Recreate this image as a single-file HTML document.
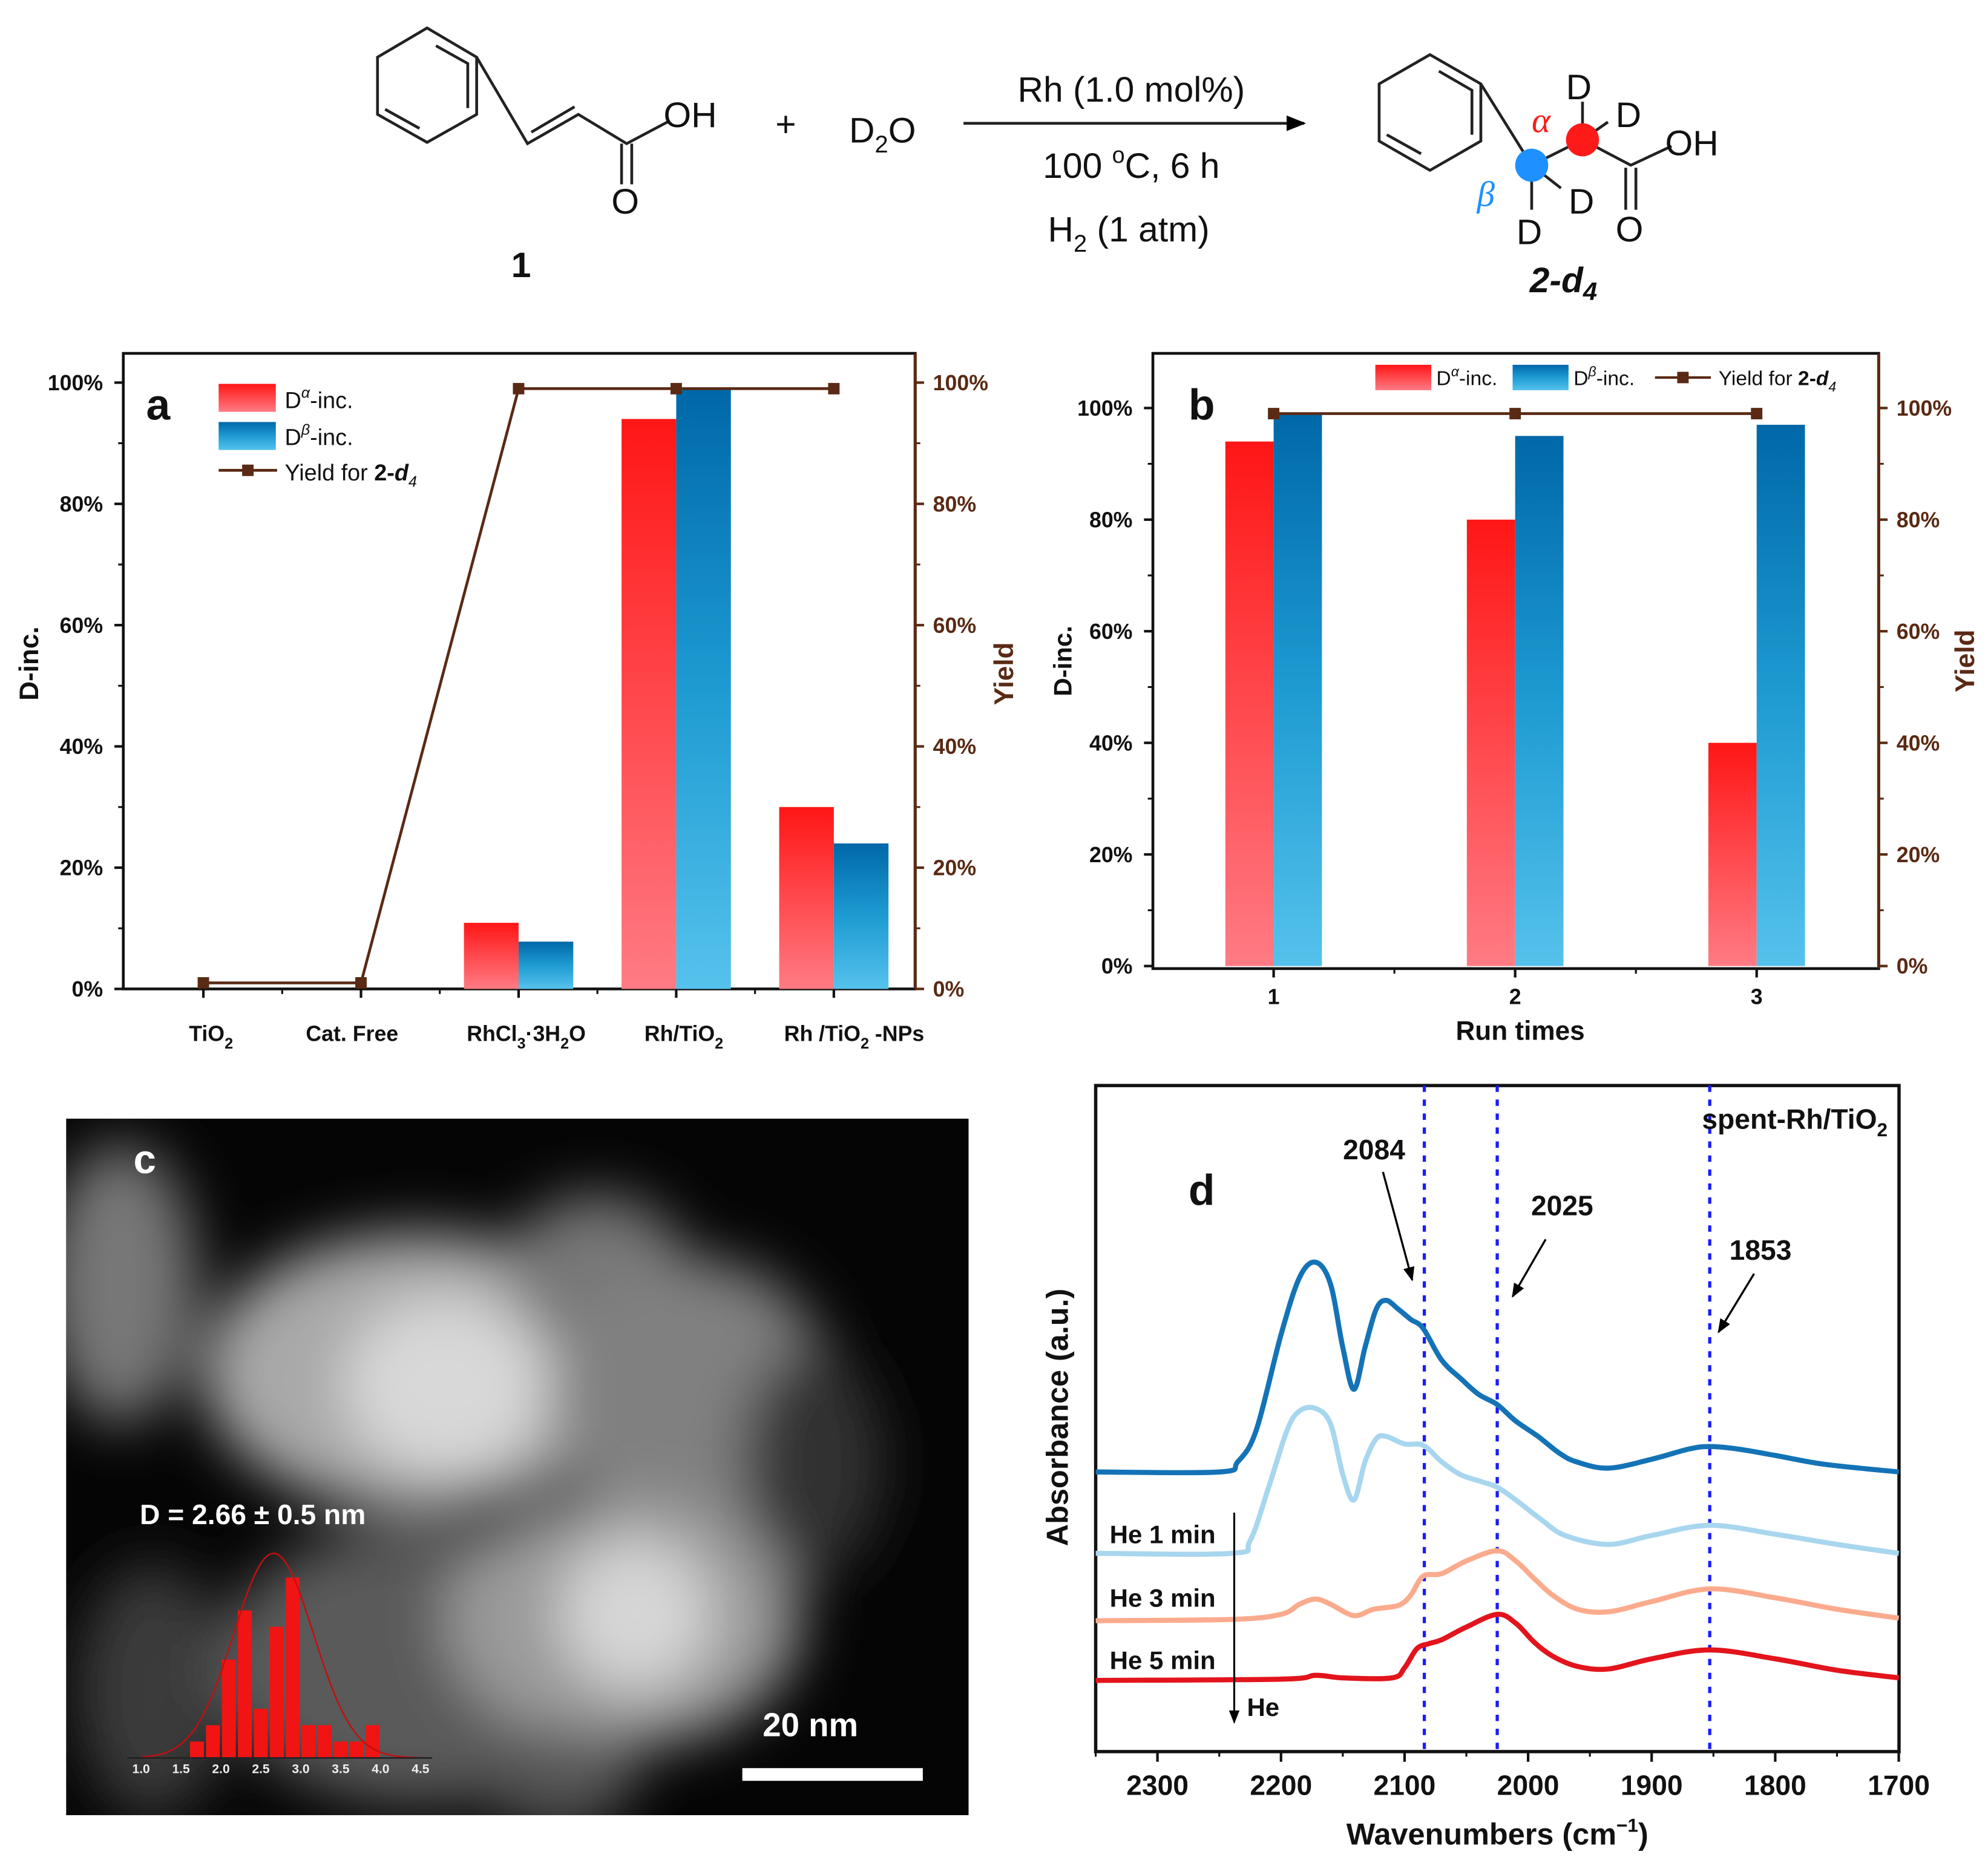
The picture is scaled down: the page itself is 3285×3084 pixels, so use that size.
<!DOCTYPE html>
<html><head><meta charset="utf-8">
<style>
html,body{margin:0;padding:0;background:#fff;}
svg{display:block;font-family:"Liberation Sans",Arial,sans-serif;}
.tk{font-size:17px;font-weight:bold;fill:#111;}
.tkr{font-size:17px;font-weight:bold;fill:#5a2a14;}
</style></head>
<body>
<svg id="fig" width="3285" height="3084" viewBox="0 0 1564 1468" preserveAspectRatio="none" xmlns="http://www.w3.org/2000/svg">
<defs>
<linearGradient id="gRed" x1="0" y1="0" x2="0" y2="1"><stop offset="0" stop-color="#ff1616"/><stop offset="1" stop-color="#ff7b84"/></linearGradient>
<linearGradient id="gBlue" x1="0" y1="0" x2="0" y2="1"><stop offset="0" stop-color="#0068a8"/><stop offset="0.5" stop-color="#1e9bd2"/><stop offset="1" stop-color="#55c2ec"/></linearGradient>
<filter id="blur" x="-30%" y="-30%" width="160%" height="160%"><feGaussianBlur stdDeviation="22"/></filter>
<clipPath id="clipC"><rect x="52" y="880" width="710" height="548"/></clipPath>
<marker id="arr" viewBox="0 0 10 10" refX="9" refY="5" markerWidth="7" markerHeight="7" orient="auto"><path d="M0,1 L10,5 L0,9 z" fill="#000"/></marker>
</defs>

<g id="scheme" stroke="#222" stroke-width="2.2" fill="none">
  <polygon points="336,22 375,45 375,90 336,112 297,90 297,45"/>
  <polyline points="343,36 368,50 368,85"/><line x1="303" y1="86" x2="330" y2="101"/>
  <polyline points="375,45 415,113 455,90 493,113 527,95"/>
  <line x1="418" y1="104" x2="452" y2="84"/>
  <line x1="489" y1="113" x2="489" y2="145"/><line x1="497" y1="113" x2="497" y2="145"/>
  <line x1="758" y1="97" x2="1026" y2="97" marker-end="url(#arr)"/>
  <polygon points="1125,43 1165,66 1165,111 1125,134 1085,111 1085,66"/>
  <polyline points="1132,56 1158,71 1158,106"/><line x1="1091" y1="106" x2="1118" y2="121"/>
  <polyline points="1165,66 1205,130 1245,110 1283,130 1315,115"/>
  <line x1="1279" y1="132" x2="1279" y2="165"/><line x1="1287" y1="132" x2="1287" y2="165"/>
  <line x1="1245" y1="110" x2="1245" y2="80"/><line x1="1245" y1="110" x2="1265" y2="96"/>
  <line x1="1205" y1="130" x2="1205" y2="165"/><line x1="1205" y1="130" x2="1228" y2="148"/>
</g>
<circle cx="1205" cy="130" r="13" fill="#1e90ff"/>
<circle cx="1245" cy="110" r="13" fill="#ff1a1a"/>
<g font-size="28" fill="#111">
  <text x="522" y="100">OH</text><text x="481" y="168">O</text>
  <text x="610" y="107">+</text>
  <text x="668" y="112">D<tspan font-size="19" dy="8">2</tspan><tspan dy="-8">O</tspan></text>
  <text x="890" y="80" text-anchor="middle">Rh (1.0 mol%)</text>
  <text x="890" y="140" text-anchor="middle">100 <tspan font-size="18" dy="-12">o</tspan><tspan dy="12">C, 6 h</tspan></text>
  <text x="888" y="190" text-anchor="middle">H<tspan font-size="19" dy="8">2</tspan><tspan dy="-8"> (1 atm)</tspan></text>
  <text x="410" y="218" font-weight="bold" text-anchor="middle">1</text>
  <text x="1232" y="78">D</text><text x="1271" y="100">D</text><text x="1234" y="168">D</text><text x="1193" y="192">D</text>
  <text x="1310" y="122">OH</text><text x="1271" y="190">O</text>
  <text x="1205" y="104" fill="#ff1a1a" font-style="italic" font-family="Liberation Serif">α</text>
  <text x="1162" y="162" fill="#1e90ff" font-style="italic" font-family="Liberation Serif">β</text>
  <text x="1230" y="230" font-weight="bold" font-style="italic" text-anchor="middle">2-d<tspan font-size="20" dy="6">4</tspan></text>
</g>

<g id="panelA"></g>
<g id="panelB"></g>

<g id="panelC" clip-path="url(#clipC)">
  <rect x="52" y="880" width="710" height="548" fill="#050505"/>
  <g filter="url(#blur)">
    <ellipse cx="95" cy="1010" rx="60" ry="110" fill="#777"/>
    <ellipse cx="120" cy="1330" rx="60" ry="100" fill="#3a3a3a"/>
    <ellipse cx="330" cy="1080" rx="170" ry="110" fill="#a8a8a8"/>
    <ellipse cx="350" cy="1090" rx="80" ry="70" fill="#d8d8d8"/>
    <ellipse cx="470" cy="1000" rx="70" ry="60" fill="#777"/>
    <ellipse cx="545" cy="1100" rx="110" ry="110" fill="#808080"/>
    <ellipse cx="330" cy="1310" rx="160" ry="110" fill="#5a5a5a"/>
    <ellipse cx="490" cy="1275" rx="140" ry="100" fill="#9a9a9a"/>
    <ellipse cx="500" cy="1270" rx="60" ry="60" fill="#d6d6d6"/>
    <ellipse cx="640" cy="1150" rx="55" ry="90" fill="#333"/>
    <ellipse cx="440" cy="1400" rx="60" ry="40" fill="#555"/>
  </g>
  <text x="105" y="923" font-size="32" font-weight="bold" fill="#fff">c</text>
  <text x="110" y="1199" font-size="22" font-weight="bold" fill="#fff">D = 2.66 ± 0.5 nm</text>
  <g id="hist"></g>
  <text x="600" y="1366" font-size="26" font-weight="bold" fill="#fff">20 nm</text>
  <rect x="584" y="1391" width="142" height="10" fill="#fff"/>
</g>

<g id="panelD"></g>
</svg>

<script>
const NS="http://www.w3.org/2000/svg";
function mk(parent,tag,attrs,txt){const e=document.createElementNS(NS,tag);for(const k in attrs)e.setAttribute(k,attrs[k]);if(txt!==undefined)e.textContent=txt;parent.appendChild(e);return e;}
function smooth(pts){let d="M"+pts[0][0]+","+pts[0][1];for(let i=0;i<pts.length-1;i++){const p0=pts[Math.max(i-1,0)],p1=pts[i],p2=pts[i+1],p3=pts[Math.min(i+2,pts.length-1)];const c1x=p1[0]+(p2[0]-p0[0])/6,c1y=p1[1]+(p2[1]-p0[1])/6,c2x=p2[0]-(p3[0]-p1[0])/6,c2y=p2[1]-(p3[1]-p1[1])/6;d+=" C"+c1x+","+c1y+" "+c2x+","+c2y+" "+p2[0]+","+p2[1];}return d;}

/* ===== Panel a data ===== */
const catsA=["TiO2","Cat. Free","RhCl3·3H2O","Rh/TiO2","Rh /TiO2 -NPs"];
const alphaA=[0,0,10.9,94,30];
const betaA=[0,0,7.8,99,24];
const yieldA=[1,1,99,99,99];
const ticksA=[0,20,40,60,80,100];

/* ===== Panel b data ===== */
const catsB=["1","2","3"];
const alphaB=[94,80,40];
const betaB=[99,95,97];
const yieldB=[99,99,99];
const ticksB=[0,20,40,60,80,100];

/* ===== Panel c histogram data ===== */
const histBins=[1.7,1.9,2.1,2.3,2.5,2.7,2.9,3.1,3.3,3.5,3.7,3.9];
const histCounts=[1,2,6,9,3,8,11,2,2,1,1,2];
const histTicks=["1.0","1.5","2.0","2.5","3.0","3.5","4.0","4.5"];
const histMean=2.66, histSigma=0.5;

/* ===== Panel d data ===== */
const wn1=[2350,2250,2235,2220,2200,2185,2172,2160,2150,2141,2132,2123,2115,2105,2095,2085,2070,2054,2040,2025,2010,1992,1975,1961,1935,1900,1870,1853,1830,1800,1760,1700];
const ab1=[220,220,228,253,328,373,385,368,318,285,318,348,355,348,340,333,308,293,281,273,260,248,235,228,223,230,238,240,238,233,226,220];
const wn2=[2350,2240,2225,2210,2195,2185,2172,2160,2150,2141,2132,2123,2115,2100,2085,2070,2055,2040,2025,2010,1990,1970,1935,1900,1853,1800,1750,1700];
const ab2=[156,156,166,208,253,268,270,258,218,198,228,246,248,242,241,228,218,213,208,198,183,170,163,170,178,171,163,156];
const wn3=[2350,2240,2200,2185,2172,2160,2141,2125,2105,2095,2085,2070,2050,2025,2010,1995,1980,1960,1935,1900,1853,1800,1750,1700];
const ab3=[103,104,108,116,120,116,107,112,115,123,138,140,150,158,150,136,123,112,110,118,128,121,112,105];
const wn4=[2350,2200,2172,2150,2110,2100,2090,2080,2070,2050,2025,2010,1995,1980,1960,1935,1900,1853,1800,1750,1700];
const ab4=[56,57,60,58,58,66,81,85,88,98,108,101,86,75,67,65,73,80,73,64,58];
const xTicksD=[2300,2200,2100,2000,1900,1800,1700];
const markLines=[2084,2025,1853];

function barChart(g,o){
  const y=v=>o.y0-(o.y0-o.y100)*v/100;
  const x=i=>o.xc[0]+i*(o.xc[1]-o.xc[0]);
  const brown="#5a2a14";
  mk(g,"rect",{x:o.L,y:o.T,width:o.R-o.L,height:o.B-o.T,fill:"none",stroke:"#111","stroke-width":2.2});
  mk(g,"line",{x1:o.R,y1:o.T,x2:o.R,y2:o.B,stroke:brown,"stroke-width":2.4});
  o.ticks.forEach(t=>{
    const yy=y(t);
    const a=mk(g,"line",{x1:o.L,y1:yy,x2:o.L-7,y2:yy,stroke:"#111","stroke-width":2});
    
    
    const l=mk(g,"text",{x:o.L-16,y:yy+6,"text-anchor":"end",class:"tk"},t+"%");
    
    
    mk(g,"line",{x1:o.R,y1:yy,x2:o.R+7,y2:yy,stroke:brown,"stroke-width":2});
    const r=mk(g,"text",{x:o.R+14,y:yy+6,class:"tkr"},t+"%");
    
    
    if(t<100){const ym=y(t+10);mk(g,"line",{x1:o.L,y1:ym,x2:o.L-4,y2:ym,stroke:"#111","stroke-width":1.5});mk(g,"line",{x1:o.R,y1:ym,x2:o.R+4,y2:ym,stroke:brown,"stroke-width":1.5});}
  });
  o.cats.forEach((c,i)=>{
    const xc=x(i);
    mk(g,"line",{x1:xc,y1:o.B,x2:xc,y2:o.B+7,stroke:"#111","stroke-width":2});
    if(i<o.cats.length-1) mk(g,"line",{x1:xc+(o.xc[1]-o.xc[0])/2,y1:o.B,x2:xc+(o.xc[1]-o.xc[0])/2,y2:o.B+4,stroke:"#111","stroke-width":1.5});
    const rb=mk(g,"rect",{x:xc-o.bw,y:y(o.alpha[i]),width:o.bw,height:o.y0-y(o.alpha[i]),fill:"url(#gRed)"});
    
    
    const bb=mk(g,"rect",{x:xc,y:y(o.beta[i]),width:o.bw,height:o.y0-y(o.beta[i]),fill:"url(#gBlue)"});
    
    
  });
  const pts=o.yld.map((v,i)=>x(i)+","+y(v)).join(" ");
  const pl=mk(g,"polyline",{points:pts,fill:"none",stroke:brown,"stroke-width":2.2});
  
  
  o.yld.forEach((v,i)=>{
    const m=mk(g,"rect",{x:x(i)-4.5,y:y(v)-4.5,width:9,height:9,fill:brown});
    
    
  });
}

const gA=document.getElementById("panelA");
barChart(gA,{L:97,R:720,T:278,B:778,y0:778,y100:301,xc:[160,284],bw:43,cats:catsA,alpha:alphaA,beta:betaA,yld:yieldA,ticks:ticksA});
[["TiO","2"],["Cat. Free"],["RhCl","3","·3H","2","O"],["Rh/TiO","2"],["Rh /TiO","2"," -NPs"]].forEach((parts,i)=>{
  const t=mk(gA,"text",{x:[166,277,414,538,672][i],y:819,"text-anchor":"middle",class:"tk","font-size":19});
  
  
  parts.forEach((p,j)=>{mk(t,"tspan",j%2?{"font-size":12,dy:6}:{dy:(j>0?-6:0)},p);});
});
const aLab=mk(gA,"text",{x:115,y:330,"font-size":34,"font-weight":"bold",fill:"#111"},"a");


mk(gA,"text",{x:30,y:522,"font-size":21,"font-weight":"bold",fill:"#111",transform:"rotate(-90 30 522)","text-anchor":"middle"},"D-inc.");
mk(gA,"text",{x:797,y:530,"font-size":21,"font-weight":"bold",fill:"#5a2a14",transform:"rotate(-90 797 530)","text-anchor":"middle"},"Yield");
mk(gA,"rect",{x:172,y:302,width:45,height:22,fill:"url(#gRed)"});
mk(gA,"rect",{x:172,y:332,width:45,height:22,fill:"url(#gBlue)"});
mk(gA,"line",{x1:172,y1:370,x2:218,y2:370,stroke:"#5a2a14","stroke-width":2.2});
mk(gA,"rect",{x:190.5,y:365.5,width:9,height:9,fill:"#5a2a14"});
let lt=mk(gA,"text",{x:224,y:321,"font-size":18,fill:"#111"});lt.innerHTML='D<tspan font-size="12" dy="-8" font-style="italic">α</tspan><tspan dy="8">-inc.</tspan>';
lt=mk(gA,"text",{x:224,y:350,"font-size":18,fill:"#111"});lt.innerHTML='D<tspan font-size="12" dy="-8" font-style="italic">β</tspan><tspan dy="8">-inc.</tspan>';
lt=mk(gA,"text",{x:224,y:378,"font-size":18,fill:"#111"});lt.innerHTML='Yield for <tspan font-weight="bold">2-<tspan font-style="italic">d</tspan></tspan><tspan font-size="12" dy="5" font-style="italic">4</tspan>';

const gB=document.getElementById("panelB");
barChart(gB,{L:907,R:1478,T:278,B:762,y0:760,y100:321,xc:[1002,1192],bw:38,cats:catsB,alpha:alphaB,beta:betaB,yld:yieldB,ticks:ticksB});
catsB.forEach((c,i)=>{const t=mk(gB,"text",{x:1002+i*190,y:790,"text-anchor":"middle",class:"tk"},c);});
mk(gB,"text",{x:1196,y:818,"text-anchor":"middle","font-size":21,"font-weight":"bold",fill:"#111"},"Run times");
mk(gB,"text",{x:935,y:330,"font-size":34,"font-weight":"bold",fill:"#111"},"b");
mk(gB,"text",{x:843,y:520,"font-size":20,"font-weight":"bold",fill:"#111",transform:"rotate(-90 843 520)","text-anchor":"middle"},"D-inc.");
mk(gB,"text",{x:1553,y:520,"font-size":21,"font-weight":"bold",fill:"#5a2a14",transform:"rotate(-90 1553 520)","text-anchor":"middle"},"Yield");
mk(gB,"rect",{x:1082,y:287,width:44,height:20,fill:"url(#gRed)"});
mk(gB,"rect",{x:1190,y:287,width:44,height:20,fill:"url(#gBlue)"});
mk(gB,"line",{x1:1302,y1:297,x2:1346,y2:297,stroke:"#5a2a14","stroke-width":2});
mk(gB,"rect",{x:1319.5,y:292.5,width:9,height:9,fill:"#5a2a14"});
lt=mk(gB,"text",{x:1130,y:303,"font-size":16,fill:"#111"});lt.innerHTML='D<tspan font-size="11" dy="-7" font-style="italic">α</tspan><tspan dy="7">-inc.</tspan>';
lt=mk(gB,"text",{x:1238,y:303,"font-size":16,fill:"#111"});lt.innerHTML='D<tspan font-size="11" dy="-7" font-style="italic">β</tspan><tspan dy="7">-inc.</tspan>';
lt=mk(gB,"text",{x:1352,y:303,"font-size":16,fill:"#111"});lt.innerHTML='Yield for <tspan font-weight="bold">2-<tspan font-style="italic">d</tspan></tspan><tspan font-size="11" dy="5" font-style="italic">4</tspan>';

const gH=document.getElementById("hist");
const hx=v=>111+(v-1.0)*62.8, hy=c=>1383-c*12.9;
histBins.forEach((b,i)=>{
  const r=mk(gH,"rect",{x:hx(b-0.1)+0.8,y:hy(histCounts[i]),width:62.8*0.2-1.6,height:1383-hy(histCounts[i]),fill:"#f01414"});
  
  
});
let gp=[];for(let v=1.0;v<=4.5;v+=0.05){gp.push([hx(v),1383-161*Math.exp(-Math.pow(v-histMean,2)/(2*histSigma*histSigma))]);}
mk(gH,"path",{d:smooth(gp),fill:"none",stroke:"#c01010","stroke-width":1.2});
mk(gH,"line",{x1:100,y1:1383,x2:340,y2:1383,stroke:"#222","stroke-width":1.2});
histTicks.forEach(t=>{const e=mk(gH,"text",{x:hx(parseFloat(t)),y:1395,"text-anchor":"middle","font-size":10,"font-weight":"bold",fill:"#eee"},t);});

const gD=document.getElementById("panelD");
const DL=862,DR=1494,DT=854,DB=1378;
const dx=w=>DL+(2350-w)*0.972;
const dyf=a=>1378-a;
mk(gD,"rect",{x:DL,y:DT,width:DR-DL,height:DB-DT,fill:"none",stroke:"#111","stroke-width":2.6});
xTicksD.forEach(t=>{
  mk(gD,"line",{x1:dx(t),y1:DB,x2:dx(t),y2:DB+8,stroke:"#111","stroke-width":2});
  mk(gD,"line",{x1:dx(t+50),y1:DB,x2:dx(t+50),y2:DB+4,stroke:"#111","stroke-width":1.5});
  const e=mk(gD,"text",{x:dx(t),y:DB+34,"text-anchor":"middle","font-size":22,"font-weight":"bold",fill:"#111"},t);
  
  
});
markLines.forEach(w=>{
  const l=mk(gD,"line",{x1:dx(w),y1:DT,x2:dx(w),y2:DB,stroke:"#1a1aff","stroke-width":2.5,"stroke-dasharray":"5,6"});
  
  
});
[[wn4,ab4,"#e3141c","spectrum-he-5min"],[wn3,ab3,"#fbab8d","spectrum-he-3min"],[wn2,ab2,"#a8d6ee","spectrum-he-1min"],[wn1,ab1,"#1473b6","spectrum-initial"]].forEach(s=>{
  const pts=s[0].map((w,i)=>[dx(w),dyf(s[1][i])]);
  const p=mk(gD,"path",{d:smooth(pts),fill:"none",stroke:s[2],"stroke-width":4,"stroke-linejoin":"round"});
  
  
});
mk(gD,"text",{x:1485,y:888,"text-anchor":"end","font-size":22,"font-weight":"bold",fill:"#111"}).innerHTML='spent-Rh/TiO<tspan font-size="15" dy="6">2</tspan>';
mk(gD,"text",{x:935,y:948,"font-size":34,"font-weight":"bold",fill:"#111"},"d");
[["2084",1081,912],["2025",1229,956],["1853",1385,991]].forEach(a=>{const e=mk(gD,"text",{x:a[1],y:a[2],"text-anchor":"middle","font-size":22,"font-weight":"bold",fill:"#111"},a[0]);});
mk(gD,"line",{x1:1088,y1:922,x2:1111,y2:1007,stroke:"#000","stroke-width":1.6,"marker-end":"url(#arr)"});
mk(gD,"line",{x1:1216,y1:975,x2:1190,y2:1020,stroke:"#000","stroke-width":1.6,"marker-end":"url(#arr)"});
mk(gD,"line",{x1:1380,y1:1002,x2:1352,y2:1048,stroke:"#000","stroke-width":1.6,"marker-end":"url(#arr)"});
[["He 1 min",1214],["He 3 min",1264],["He 5 min",1313]].forEach(a=>{const e=mk(gD,"text",{x:873,y:a[1],"font-size":20,"font-weight":"bold",fill:"#111"},a[0]);});
mk(gD,"line",{x1:971,y1:1190,x2:971,y2:1355,stroke:"#000","stroke-width":1.5,"marker-end":"url(#arr)"});
mk(gD,"text",{x:981,y:1350,"font-size":20,"font-weight":"bold",fill:"#111"},"He");
mk(gD,"text",{x:840,y:1115,"font-size":24,"font-weight":"bold",fill:"#111",transform:"rotate(-90 840 1115)","text-anchor":"middle"},"Absorbance (a.u.)");
mk(gD,"text",{x:1178,y:1451,"text-anchor":"middle","font-size":24,"font-weight":"bold",fill:"#111"}).innerHTML='Wavenumbers (cm<tspan font-size="15" dy="-10">−1</tspan><tspan dy="10">)</tspan>';
</script>
</body></html>
